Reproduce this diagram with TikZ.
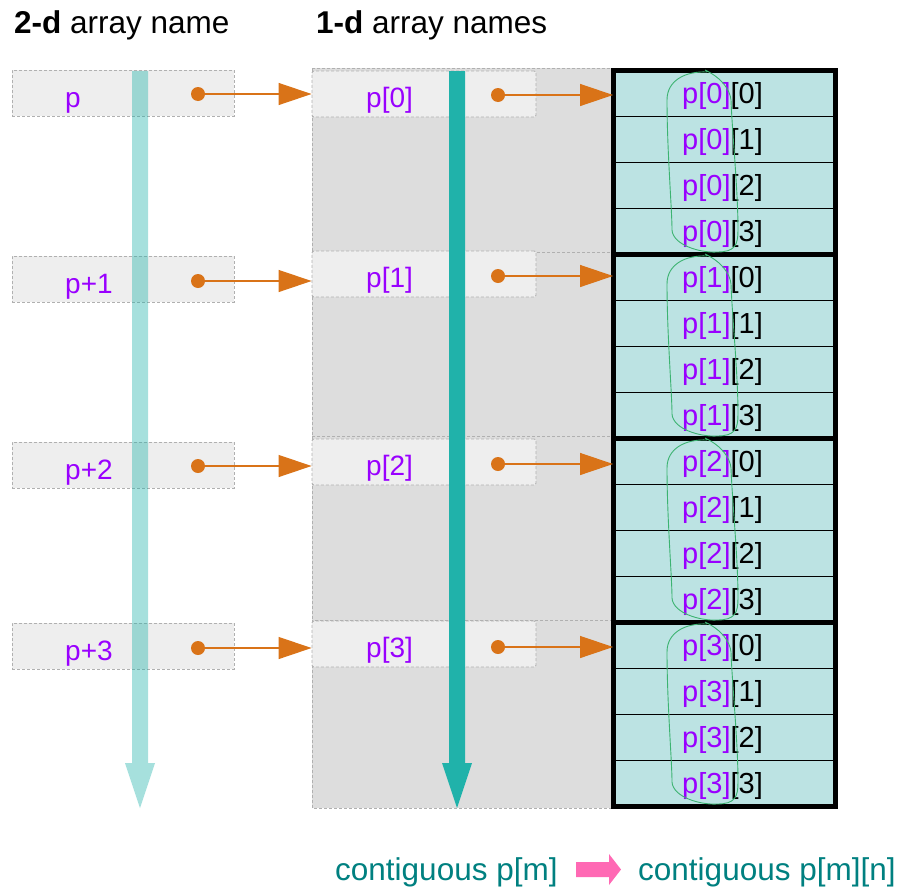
\documentclass[tikz,border=0pt]{standalone}
\usepackage{fontspec}
\setmainfont{Liberation Sans}
\usetikzlibrary{arrows.meta}
\definecolor{boxfill}{HTML}{EEEEEE}
\definecolor{regfill}{HTML}{DDDDDD}
\definecolor{dashgray}{HTML}{B0B0B0}
\definecolor{cellfill}{HTML}{BCE3E3}
\definecolor{purp}{HTML}{9900FF}
\definecolor{orng}{HTML}{D97318}
\definecolor{seateal}{HTML}{20B2AA}
\definecolor{loopgreen}{HTML}{3CB371}
\definecolor{txteal}{HTML}{008080}
\definecolor{pinkarr}{HTML}{FF69B4}
\tikzset{
  dashbox/.style={draw=dashgray, line width=0.9pt, dash pattern=on 3pt off 2pt},
  lbox/.style={dashbox, fill=boxfill, rectangle, minimum width=222pt, minimum height=46pt, inner sep=0pt},
  mbox/.style={dashbox, fill=boxfill, rectangle, rounded corners=2pt, minimum width=224pt, minimum height=46pt, inner sep=0pt},
  region/.style={dashbox, fill=regfill},
  lbl/.style={inner sep=0pt, text=purp, font=\fontsize{28}{30}\selectfont},
  ctext/.style={inner sep=0pt, text=black, font=\fontsize{29}{31}\selectfont},
  hdr/.style={inner sep=0pt, text=black, font=\fontsize{31.5}{33}\selectfont},
  btext/.style={inner sep=0pt, text=txteal, font=\fontsize{31.5}{33}\selectfont},
  dotnode/.style={circle, fill=orng, minimum size=14pt, inner sep=0pt},
  conn/.style={draw=orng, line width=1.2pt, -{Triangle[length=33pt,width=22pt]}},
  cellbox/.style={draw=black, line width=0.9pt, fill=cellfill, rectangle, minimum width=222pt, minimum height=46pt, inner sep=0pt},
  grpborder/.style={draw=black, line width=5pt},
  loopline/.style={draw=loopgreen, line width=0.9pt},
}
\begin{document}
\begin{tikzpicture}[x=1pt,y=-1pt]
\useasboundingbox (0,0) rectangle (899,889);

% headers
\node[hdr, anchor=base west] (h2d) at (14,33) {\textbf{2-d} array name};
\node[hdr, anchor=base west] (h1d) at (316,33) {\textbf{1-d} array names};

% middle grey regions
\foreach \t/\b in {68/252,252/436,436/620,620/808}
  \path[region] (312,\t) rectangle (612,\b);

% left boxes
\foreach \i/\yc/\lab in {1/93/p,2/279/p+1,3/465/p+2,4/646/p+3} {
  \node[lbox] (lb\i) at (123,\yc) {};
  \node[lbl, anchor=base west] (lt\i) at (65,\yc+14) {\lab};
}

% middle boxes
\foreach \i/\yc/\k in {1/94/0,2/274/1,3/462/2,4/644/3} {
  \node[mbox] (mb\i) at (424,\yc) {};
  \node[lbl, anchor=base west] (mt\i) at (366,\yc+13) {p[\k]};
}

% cells
\foreach \i in {0,...,3} {
  \foreach \j in {0,...,3} {
    \node[cellbox] (c\i\j) at (724.5,{93.5+184*\i+46*\j}) {};
    \node[ctext, anchor=base west] (ct\i\j) at (682,{103.5+184*\i+46*\j}) {\textcolor{purp}{p[\i]}[\j]};
  }
}
\foreach \i in {0,...,3}
  \draw[grpborder] (613.5,{70.5+184*\i}) rectangle (835.5,{254.5+184*\i});

% green loops
\foreach \i in {0,...,3} {
  \begin{scope}[yshift={-184pt*\i}]
  \draw[loopline] (707,72) .. controls (686,71) and (667,80) .. (667,100)
    .. controls (667,150) and (672,210) .. (672,230)
    .. controls (673,245) and (700,253) .. (717,252)
    .. controls (735,252) and (738,245) .. (738,230)
    .. controls (738,190) and (732,130) .. (731,100)
    .. controls (730,90) and (722,78) .. (705,70);
  \end{scope}
}

% dots and arrows
\foreach \i/\y in {1/94,2/281,3/466,4/648}
  \node[dotnode] (ld\i) at (198,\y) {};
\foreach \i/\y in {1/95,2/276,3/464,4/647}
  \node[dotnode] (md\i) at (498,\y) {};
\foreach \i in {1,...,4} {
  \draw[conn] (ld\i.center) -- (mb\i.west |- ld\i.center);
}
\draw[conn] (md1.center) -- (c00.west |- md1.center);
\draw[conn] (md2.center) -- (c10.west |- md2.center);
\draw[conn] (md3.center) -- (c20.west |- md3.center);
\draw[conn] (md4.center) -- (c30.west |- md4.center);

% teal vertical arrows
\fill[seateal, opacity=0.4] (132,71) -- (148,71) -- (148,763) -- (155,763) -- (140,808) -- (125,763) -- (132,763) -- cycle;
\fill[seateal] (449,71) -- (465,71) -- (465,763) -- (472,763) -- (457,808) -- (442,763) -- (449,763) -- cycle;

% bottom
\node[btext, anchor=base west] (b1) at (335,880) {contiguous p[m]};
\node[btext, anchor=base west] (b2) at (638,880) {contiguous p[m][n]};
\fill[pinkarr] (576,862) -- (609,862) -- (609,854) -- (621,869.5) -- (609,885) -- (609,877) -- (576,877) -- cycle;
\end{tikzpicture}
\end{document}
